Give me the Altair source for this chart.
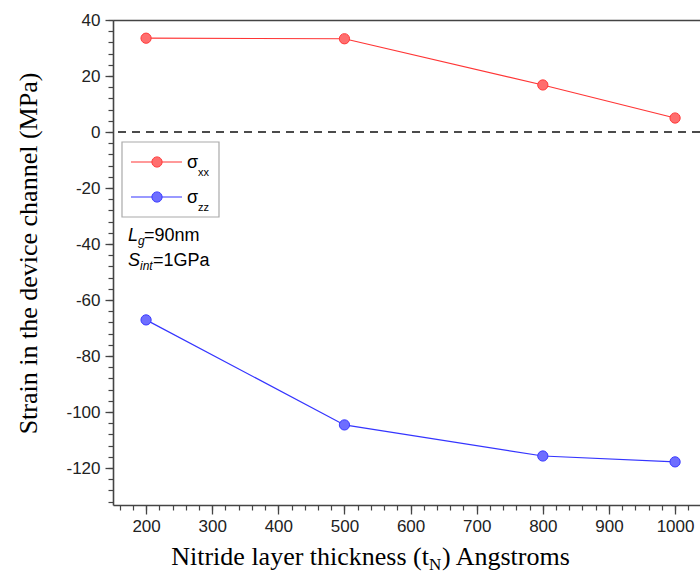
import altair as alt
import pandas as pd

# ---------------- data ----------------
thickness = [200, 500, 800, 1000]
sigma_xx = [33.5, 33.3, 16.8, 5.0]
sigma_zz = [-67.1, -104.6, -115.7, -117.8]
series = ["xx", "zz"]

x_major_ticks = [200, 300, 400, 500, 600, 700, 800, 900, 1000]
x_minor_ticks = list(range(160, 1037, 20))
y_major_ticks = [-120, -100, -80, -60, -40, -20, 0, 20, 40]
y_minor_ticks = list(range(-132, 41, 4))

y_title = "Strain in the device channel (MPa)"
x_title_parts = ["Nitride layer thickness (t", "N", ") Angstroms"]
legend_sigma = "σ"
legend_subs = ["xx", "zz"]
note_L = ["L", "g", "=90nm"]
note_S = ["S", "int", "=1GPa"]
zero_line = [0]

df = pd.DataFrame({
    "t": thickness * 2,
    "v": sigma_xx + sigma_zz,
    "s": [series[0]] * len(thickness) + [series[1]] * len(thickness),
})

# ---------------- scales / axes ----------------
x_scale = alt.Scale(domain=[150, 1037.7], nice=False, zero=False)
y_scale = alt.Scale(domain=[-133.2, 40], nice=False, zero=False)
line_col = alt.Scale(domain=series, range=["#ff3535", "#3535ff"])
fill_col = alt.Scale(domain=series, range=["#ff6e6e", "#6e6eff"])
stroke_col = alt.Scale(domain=series, range=["#ff3a3a", "#3a3aff"])

AX = "#444444"
TICK_FONT = "Liberation Sans"
LABEL_EXPR = "(datum.value < 0 ? '-' : '') + abs(datum.value)"

major_x = alt.Axis(orient="bottom", values=x_major_ticks, tickSize=9, labelPadding=4,
                   labelFont=TICK_FONT, labelFontSize=17, labelColor="#222222",
                   labelFlush=False, labelOverlap=False, labelExpr=LABEL_EXPR,
                   domainColor=AX, domainWidth=1.6, tickColor=AX, tickWidth=1.3,
                   grid=False, title=None)
minor_x = alt.Axis(orient="bottom", values=x_minor_ticks, tickSize=5, labels=False,
                   domain=False, tickColor=AX, tickWidth=1.2, grid=False, title=None)
top_x = alt.Axis(orient="top", ticks=False, labels=False, domain=True,
                 domainColor=AX, domainWidth=1.6, grid=False, title=None)

major_y = alt.Axis(orient="left", values=y_major_ticks, tickSize=8, labelPadding=5,
                   labelFont=TICK_FONT, labelFontSize=17, labelColor="#222222",
                   labelFlush=False, labelOverlap=False, labelExpr=LABEL_EXPR,
                   domainColor=AX, domainWidth=1.6, tickColor=AX, tickWidth=1.3,
                   grid=False, title=y_title, titleFont="Liberation Serif",
                   titleFontSize=26, titleFontWeight="normal", titleColor="black",
                   titleX=-85, titleY=233, titleAngle=-90, titleAlign="center",
                   titleBaseline="middle")
minor_y = alt.Axis(orient="left", values=y_minor_ticks, tickSize=5, labels=False,
                   domain=False, tickColor=AX, tickWidth=1.2, grid=False, title=None)

# ---------------- data layers ----------------
lines = alt.Chart(df).mark_line(strokeWidth=1.2).encode(
    x=alt.X("t:Q", scale=x_scale, axis=major_x),
    y=alt.Y("v:Q", scale=y_scale, axis=major_y),
    color=alt.Color("s:N", scale=line_col, legend=None),
    detail="s:N",
)

points = alt.Chart(df).mark_point(filled=True, size=105, opacity=1, strokeWidth=1).encode(
    x=alt.X("t:Q", scale=x_scale, axis=minor_x),
    y=alt.Y("v:Q", scale=y_scale, axis=minor_y),
    fill=alt.Fill("s:N", scale=fill_col, legend=None),
    stroke=alt.Stroke("s:N", scale=stroke_col, legend=None),
)

frame_top = alt.Chart(df).mark_point(opacity=0).encode(
    x=alt.X("t:Q", scale=x_scale, axis=top_x),
    y=alt.Y("v:Q", scale=y_scale, axis=None),
)

zero = alt.Chart(pd.DataFrame({"z": zero_line})).mark_rule(
    color="#111111", strokeWidth=1.5, strokeDash=[8, 6]
).encode(y=alt.Y("z:Q", scale=y_scale, axis=None))

# ---------------- legend (manual, for subscripts) ----------------
one = pd.DataFrame({"k": [0]})

legend_box = alt.Chart(one).mark_rect(fill="white", stroke="#aaaaaa", strokeWidth=1.2).encode(
    x=alt.value(9), x2=alt.value(106), y=alt.value(122), y2=alt.value(197))


def leg_line(y, color):
    return alt.Chart(one).mark_rule(color=color, strokeWidth=1.2).encode(
        x=alt.value(18), x2=alt.value(69), y=alt.value(y))


def leg_pt(y, fill, stroke):
    return alt.Chart(one).mark_point(filled=True, size=105, opacity=1, fill=fill,
                                     stroke=stroke, strokeWidth=1).encode(
        x=alt.value(44), y=alt.value(y))


def txt(s, x, y, size, font="Liberation Sans", style="normal", align="left"):
    return alt.Chart(pd.DataFrame({"label": [s]})).mark_text(
        align=align, baseline="alphabetic", font=font, fontSize=size,
        fontStyle=style, color="black").encode(
        x=alt.value(x), y=alt.value(y), text="label:N")


legend_layers = [
    legend_box,
    leg_line(142, "#ff3535"), leg_pt(142, "#ff6e6e", "#ff3a3a"),
    leg_line(177, "#3535ff"), leg_pt(177, "#6e6eff", "#3a3aff"),
    txt(legend_sigma, 74, 148, 18), txt(legend_subs[0], 85, 156, 11),
    txt(legend_sigma, 74, 183, 18), txt(legend_subs[1], 85, 191, 11),
    txt(note_L[0], 15, 221, 18, style="italic"),
    txt(note_L[1], 25, 225, 12, style="italic"),
    txt(note_L[2], 31, 221, 18),
    txt(note_S[0], 15, 246, 18, style="italic"),
    txt(note_S[1], 27, 250, 12, style="italic"),
    txt(note_S[2], 40, 246, 18),
]

x_title_layers = [
    txt(x_title_parts[0], 316, 545, 26, font="Liberation Serif", align="right"),
    txt(x_title_parts[1], 316, 550, 17, font="Liberation Serif"),
    txt(x_title_parts[2], 329, 545, 26, font="Liberation Serif"),
]

chart = alt.layer(
    zero, frame_top, lines, points, *legend_layers, *x_title_layers
).resolve_axis(
    x="independent", y="independent"
).properties(
    width=587, height=485, autosize="none",
    padding={"left": 113, "top": 20, "right": 0, "bottom": 70},
    background="white",
).configure_view(stroke=None)

chart.save("out.html", embed_options={"renderer": "svg", "actions": False})
